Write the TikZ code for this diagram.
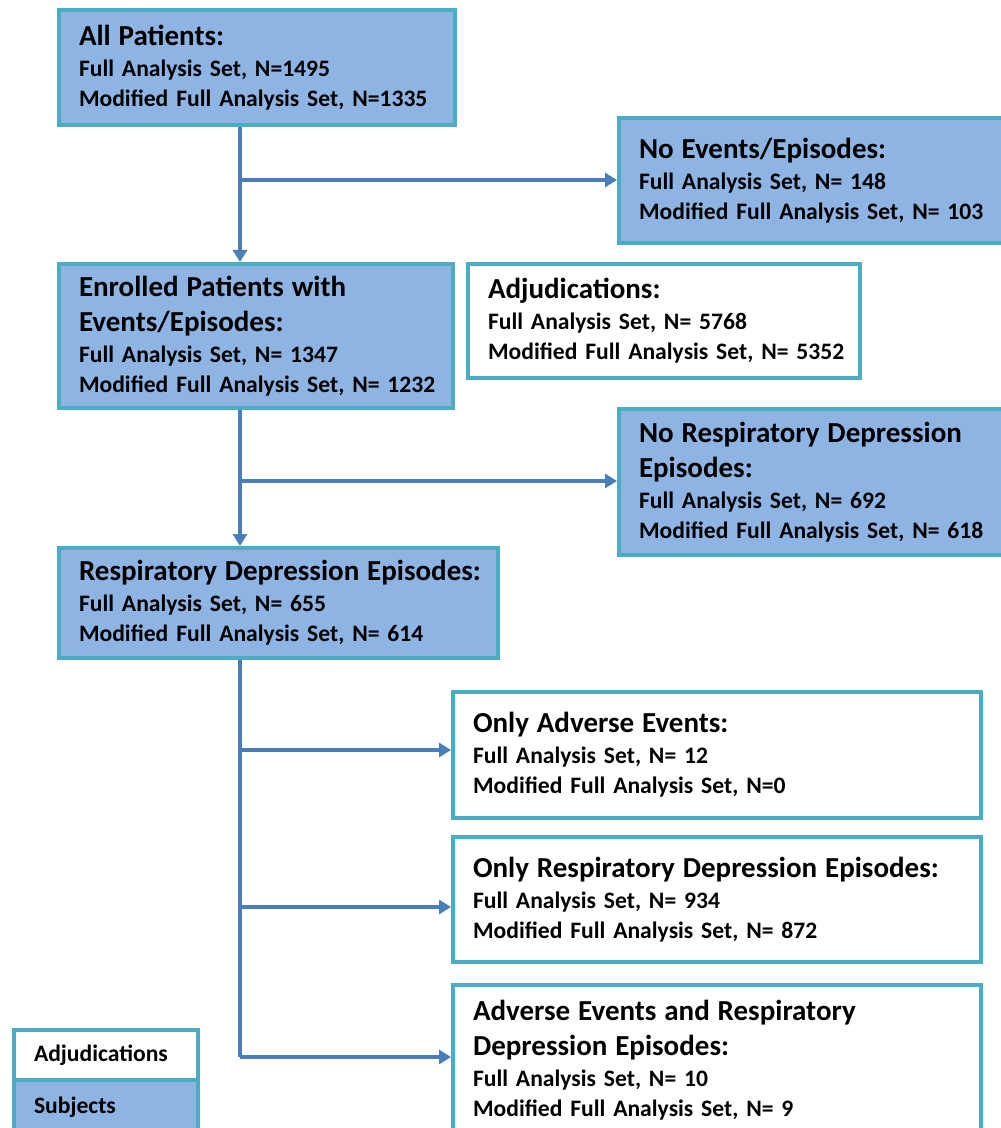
\documentclass[tikz,border=0pt]{standalone}
\usepackage{fontspec}
\setmainfont{Carlito}
\usetikzlibrary{arrows.meta}
\definecolor{bluefill}{HTML}{8EB4E3}
\definecolor{tealc}{HTML}{4BACC6}
\definecolor{linec}{HTML}{4A7EBB}
\newcommand\hd[1]{\mbox{\fontsize{14.5}{17.5}\selectfont #1}}
\newcommand\bl[1]{\mbox{#1}}
\begin{document}
\begin{tikzpicture}[x=0.5pt,y=-0.5pt,
  subj/.style={draw=tealc, fill=bluefill, line width=2pt, anchor=north west, align=left,
    inner xsep=10pt, inner ysep=0pt, font=\fontsize{11.8}{15}\selectfont\bfseries},
  adjbox/.style={subj, fill=white},
  conn/.style={draw=linec, line width=2pt, -{Triangle[length=6pt,width=7pt]}},
  plain/.style={draw=linec, line width=2pt}]
\useasboundingbox (0,0) rectangle (1000,1128);
\fill[white] (0,0) rectangle (1000,1128);

\node[subj, text width=178pt, minimum height=57.5pt] (b1) at (57,8)
  {\hd{All Patients:}\\[0.5pt]\bl{Full Analysis Set, N=1495}\\\bl{Modified Full Analysis Set, N=1335}};
\node[subj, text width=175pt, minimum height=62.5pt] (b2) at (617,116)
  {\hd{No Events/Episodes:}\\[0.5pt]\bl{Full Analysis Set, N= 148}\\\bl{Modified Full Analysis Set, N= 103}};
\node[subj, text width=177pt, minimum height=72pt] (b3) at (57,262)
  {\hd{Enrolled Patients with}\\[2.5pt]\hd{Events/Episodes:}\\[0.5pt]\bl{Full Analysis Set, N= 1347}\\\bl{Modified Full Analysis Set, N= 1232}};
\node[adjbox, text width=176pt, minimum height=57pt] (b4) at (466,262)
  {\hd{Adjudications:}\\[0.5pt]\bl{Full Analysis Set, N= 5768}\\\bl{Modified Full Analysis Set, N= 5352}};
\node[subj, text width=175pt, minimum height=73pt] (b5) at (617,407)
  {\hd{No Respiratory Depression}\\[2.5pt]\hd{Episodes:}\\[0.5pt]\bl{Full Analysis Set, N= 692}\\\bl{Modified Full Analysis Set, N= 618}};
\node[subj, text width=199.5pt, minimum height=55pt] (b6) at (57,546)
  {\hd{Respiratory Depression Episodes:}\\[0.5pt]\bl{Full Analysis Set, N= 655}\\\bl{Modified Full Analysis Set, N= 614}};
\node[adjbox, text width=244pt, minimum height=63pt] (b7) at (451,690)
  {\hd{Only Adverse Events:}\\[0.5pt]\bl{Full Analysis Set, N= 12}\\\bl{Modified Full Analysis Set, N=0}};
\node[adjbox, text width=244pt, minimum height=62.5pt] (b8) at (451,835)
  {\hd{Only Respiratory Depression Episodes:}\\[0.5pt]\bl{Full Analysis Set, N= 934}\\\bl{Modified Full Analysis Set, N= 872}};
\node[adjbox, text width=244pt, minimum height=75pt] (b9) at (451,983)
  {\hd{Adverse Events and Respiratory}\\[2.5pt]\hd{Depression Episodes:}\\[0.5pt]\bl{Full Analysis Set, N= 10}\\\bl{Modified Full Analysis Set, N= 9}};

\node[adjbox, text width=72pt, minimum height=25pt] (la) at (12,1028) {Adjudications};
\node[subj, text width=72pt, minimum height=27.5pt] (ls) at (12,1078) {Subjects};

\coordinate (j1) at (240,180);
\coordinate (j2) at (240,481);
\coordinate (j3) at (240,750);
\coordinate (j4) at (240,907);
\coordinate (j5) at (240,1057);

\draw[conn] (b1.south -| j1) -- (b3.north -| j1);
\draw[conn] (j1) -- (j1 -| b2.west);
\draw[conn] (b3.south -| j2) -- (b6.north -| j2);
\draw[conn] (j2) -- (j2 -| b5.west);
\draw[plain] (b6.south -| j3) -- (j5);
\draw[conn] (j3) -- (j3 -| b7.west);
\draw[conn] (j4) -- (j4 -| b8.west);
\draw[conn] (j5) -- (j5 -| b9.west);
\end{tikzpicture}
\end{document}
